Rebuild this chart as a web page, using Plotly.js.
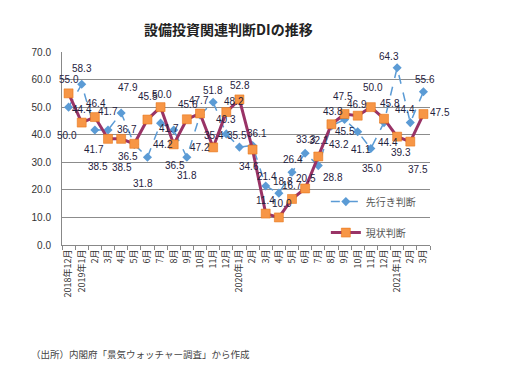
<!DOCTYPE html>
<html>
<head>
<meta charset="utf-8">
<script src="https://cdn.plot.ly/plotly-3.0.1.min.js"></script>
<style>html,body{margin:0;padding:0;background:#fff;}#chart{width:531px;height:367px;}</style>
</head>
<body>
<div id="chart"></div>
<script>
const months = ["2018年12月","2019年1月","2月","3月","4月","5月","6月","7月","8月","9月","10月","11月","12月",
  "2020年1月","2月","3月","4月","5月","6月","7月","8月","9月","10月","11月","12月","2021年1月","2月","3月"];
// unique category keys (labels repeat across years)
const categories = months.map((m, i) => i + ":" + m);

const outlook = [50.0,58.3,41.7,41.7,47.9,36.5,31.8,44.2,41.7,31.8,47.2,51.8,40.3,35.5,36.1,21.4,18.8,26.4,33.3,28.8,43.2,45.5,41.1,35.0,44.4,64.3,44.4,55.6];
const current = [55.0,44.4,46.4,38.5,38.5,36.7,45.5,50.0,36.5,45.6,47.7,35.4,48.2,52.8,34.6,11.4,10.0,16.7,20.5,32.1,43.8,47.5,46.9,50.0,45.8,39.3,37.5,47.5];

// label offsets in pixels (style only): [dx, dy], dy positive = up
const outlookShift = [[-2,-28],[0,16],[-1,-19],[0,19],[7,25],[-6,-12],[-4,-26],[2,-21],[-5,2],[0,-18],
  [0,-33],[0,12],[0,14],[-2,12],[4,12],[1,10],[4,12],[1,13],[1,14],[15,-12],
  [8,-19],[0,-12],[3,-18],[1,-20],[4,-20],[-8,11],[-5,13],[2,12]];
const currentShift = [[0,14],[0,13],[1,14],[-10,-28],[1,-29],[-7,14],[1,23],[1,13],[1,-21],[1,15],
  [-1,13],[1,12],[8,11],[1,14],[-4,-17],[0,13],[3,14],[0,13],[1,10],[1,16],
  [2,13],[-2,18],[-1,11],[2,20],[6,15],[4,-16],[8,-28],[17,2]];

const labelFont = {family: "Liberation Sans, Arial, sans-serif", size: 10, color: "#1f2240"};

const traces = [
  {
    x: categories, y: outlook, name: "先行き判断", type: "scatter", mode: "lines+markers",
    line: {color: "#5B9BD5", width: 1.5, dash: "dash"},
    marker: {symbol: "diamond", size: 7, color: "#5B9BD5"},
    legendgroup: "a", cliponaxis: false
  },
  {
    x: categories, y: current, name: "現状判断", type: "scatter", mode: "lines+markers",
    line: {color: "#993366", width: 3},
    marker: {symbol: "square", size: 9, color: "#F79646", line: {color: "#E46C0A", width: 0.5}},
    legendgroup: "b", cliponaxis: false
  }
];

function labels(values, shifts) {
  return values.map((v, i) => ({
    x: categories[i], y: v, xref: "x", yref: "y",
    text: v.toFixed(1), showarrow: false,
    xshift: shifts[i][0], yshift: shifts[i][1],
    xanchor: "center", yanchor: "middle", font: labelFont
  }));
}

const annotations = labels(outlook, outlookShift).concat(labels(current, currentShift));
annotations.push({
  text: "（出所）内閣府「景気ウォッチャー調査」から作成",
  xref: "paper", yref: "paper", x: -0.09, y: -0.565,
  xanchor: "left", yanchor: "middle", showarrow: false,
  font: {family: "Noto Sans CJK JP, sans-serif", size: 9.5, color: "#444"}
});

const layout = {
  width: 531, height: 367,
  paper_bgcolor: "#fff", plot_bgcolor: "#fff",
  margin: {l: 62, r: 101, t: 52, b: 122},
  title: {
    text: "<b>設備投資関連判断DIの推移</b>",
    font: {family: "Noto Sans CJK JP, sans-serif", size: 14, color: "#222"},
    x: 0.43, xref: "container", xanchor: "center",
    y: 0.918, yref: "container", yanchor: "middle"
  },
  xaxis: {
    type: "category", categoryorder: "array", categoryarray: categories,
    tickmode: "array", tickvals: categories, ticktext: months,
    tickangle: -90, tickson: "boundaries", ticks: "outside", ticklen: 4, tickcolor: "#888",
    tickfont: {family: "Noto Sans CJK JP, sans-serif", size: 9, color: "#333"},
    showgrid: false, showline: true, linecolor: "#888", linewidth: 1,
    range: [-0.5, categories.length - 0.5], zeroline: false, fixedrange: true
  },
  yaxis: {
    range: [0, 70], dtick: 10, tickformat: ".1f",
    showgrid: true, gridcolor: "#8c8c8c", gridwidth: 1,
    showline: true, linecolor: "#888", linewidth: 1,
    ticks: "", ticklabelstandoff: 8,
    tickfont: {family: "Liberation Sans, Arial, sans-serif", size: 10, color: "#333"},
    zeroline: false, fixedrange: true
  },
  showlegend: true,
  legend: {
    x: 0.717, xanchor: "left", y: 0.30, yanchor: "top",
    bgcolor: "rgba(0,0,0,0)", tracegroupgap: 12,
    font: {family: "Noto Sans CJK JP, sans-serif", size: 10, color: "#555"}
  },
  annotations: annotations
};

Plotly.newPlot("chart", traces, layout, {displayModeBar: false, staticPlot: true});
</script>
</body>
</html>
